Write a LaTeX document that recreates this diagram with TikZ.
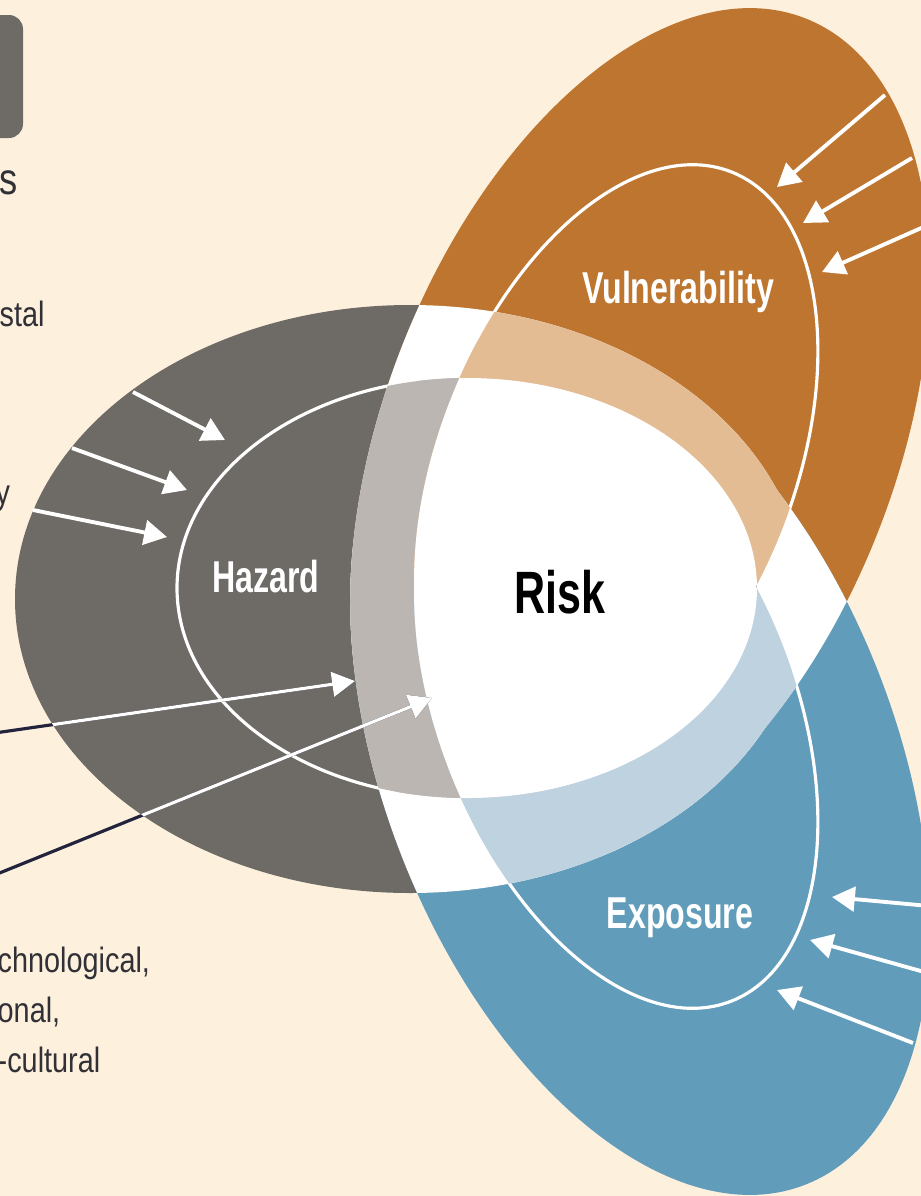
\documentclass[tikz,border=0pt]{standalone}
\usepackage{fontspec}
\setmainfont{Liberation Sans}
\newfontfamily\narrowsans[FakeStretch=0.72]{Liberation Sans}
\newfontfamily\sidesans[FakeStretch=0.82]{Liberation Sans}
\usetikzlibrary{arrows.meta}
\definecolor{paper}{RGB}{253,240,221}
\definecolor{haz}{RGB}{110,106,101}
\definecolor{hazlt}{RGB}{187,182,178}
\definecolor{vul}{RGB}{189,117,48}
\definecolor{vullt}{RGB}{228,188,148}
\definecolor{expo}{RGB}{97,156,186}
\definecolor{expolt}{RGB}{190,210,224}
\definecolor{ink}{RGB}{48,48,54}
\definecolor{navy}{RGB}{35,35,62}

\newcommand\petalHaz{(410,599) ellipse [x radius=395, y radius=294]}
\newcommand\petalVul{[rotate around={68.5:(640,439)}] (640,439) ellipse [x radius=452, y radius=255.5]}
\newcommand\petalExp{[rotate around={-68.5:(640,764)}] (640,764) ellipse [x radius=452, y radius=255.5]}
\newcommand\coreHaz{(467,588) ellipse [x radius=290, y radius=210]}
\newcommand\coreVul{[rotate around={68.5:(616,465)}] (616,465) ellipse [x radius=315, y radius=178]}
\newcommand\coreExp{[rotate around={-68.5:(616,708)}] (616,708) ellipse [x radius=315, y radius=178]}

\begin{document}
\begin{tikzpicture}[x=0.01cm, y=-0.01cm,
  rim/.style={draw=white, line width=0.9pt},
  feed/.style={white, line width=1.1pt, -{Triangle[length=6.5pt,width=7pt]}},
  linkline/.style={draw=navy, line width=0.9pt, -{Triangle[length=6.5pt,width=7pt]}},
  petaltext/.style={font=\narrowsans\bfseries\fontsize{12.7}{15}\selectfont, text=white, inner sep=0pt, anchor=base},
  side/.style={font=\sidesans\fontsize{10}{14.3}\selectfont, text=ink, inner sep=0pt, align=left}]
 \useasboundingbox (0,0) rectangle (921,1196);
 \clip (0,0) rectangle (921,1196);
 \fill[paper] (0,0) rectangle (921,1196);
 \fill[haz, rounded corners=4pt] (-40,15) rectangle (23,138);

 \fill[haz] \petalHaz;
 \fill[vul] \petalVul;
 \fill[expo] \petalExp;
 \begin{scope}
  \clip \petalHaz;
  \fill[white] \petalVul;
  \fill[white] \petalExp;
 \end{scope}
 \begin{scope}
  \clip \petalVul;
  \fill[white] \petalExp;
 \end{scope}

 \draw[rim] \coreHaz;
 \draw[rim] \coreVul;
 \draw[rim] \coreExp;

 \begin{scope}
  \clip \coreHaz;
  \fill[hazlt] \petalVul;
  \fill[hazlt] \petalExp;
 \end{scope}
 \begin{scope}
  \clip \coreVul;
  \fill[vullt] \petalHaz;
  \fill[vullt] \petalExp;
 \end{scope}
 \begin{scope}
  \clip \coreExp;
  \fill[expolt] \petalHaz;
  \fill[expolt] \petalVul;
 \end{scope}

 \begin{scope}
  \clip \coreHaz;
  \fill[white] \coreVul;
  \fill[white] \coreExp;
 \end{scope}
 \begin{scope}
  \clip \coreVul;
  \fill[white] \coreExp;
 \end{scope}

 \node[petaltext] (haz) at (266,592) {Hazard};
 \node[petaltext] (vul) at (678,303) {Vulnerability};
 \node[petaltext] (exp) at (680,928) {Exposure};
 \node[petaltext, text=black, font=\narrowsans\bfseries\fontsize{17}{20}\selectfont] (risk) at (560,613) {Risk};

 \foreach \n/\a/\b/\c/\d in {h1/133/392/225/440, h2/72/448/187/490, h3/33/510/167/537,
   v1/885/95/777/187, v2/912/158/803/223, v3/928/225/822/272,
   e1/929/906/832/897, e2/928/973/810/940, e3/913/1043/777/990}
  {\coordinate (s\n) at (\a,\b); \coordinate (t\n) at (\c,\d);}
 \foreach \n in {h1,h2,h3,v1,v2,v3,e1,e2,e3}
  \draw[feed] (s\n) -- (t\n);

 \coordinate (src1) at (-40,738); \coordinate (tip1) at (355,681);
 \coordinate (src2) at (-40,889); \coordinate (tip2) at (432,698);
 \draw[linkline] (src1) -- (tip1);
 \draw[linkline] (src2) -- (tip2);
 \begin{scope}
  \clip \petalHaz;
  \draw[feed, line width=0.9pt] (src1) -- (tip1);
  \draw[feed, line width=0.9pt] (src2) -- (tip2);
 \end{scope}

 \node[side, anchor=base west, font=\sidesans\fontsize{12.6}{14}\selectfont] (drv1) at (-1,194) {s};
 \node[side, anchor=base west] (drv2) at (-1,326) {stal};
 \node[side, anchor=base west] (drv3) at (-5,504) {y};
 \node[side, anchor=north west] (ctx) at (-3,946) {chnological,\\onal,\\-cultural};
\end{tikzpicture}
\end{document}
